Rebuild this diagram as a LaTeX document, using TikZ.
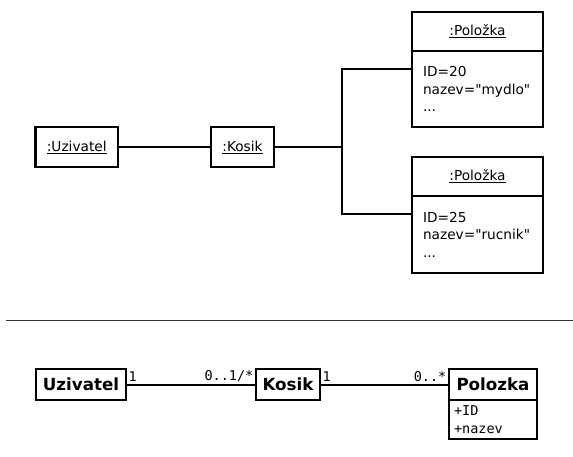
\documentclass[tikz,border=0pt]{standalone}
\usepackage{fontspec}
\setmainfont{DejaVu Sans}
\setmonofont{DejaVu Sans Mono}

\tikzset{
  obj/.style={draw, line width=2.2pt, outer sep=0pt, inner sep=0pt,
    minimum height=40pt, font=\fontsize{13.7}{17.5}\selectfont},
  objhead/.style={obj, minimum width=131pt, minimum height=39pt},
  objbody/.style={obj, align=left, text width=109pt, minimum width=131pt,
    minimum height=76pt},
  cls/.style={draw, line width=2.6pt, outer sep=0pt, inner sep=0pt,
    minimum height=31pt, font=\fontsize{16.7}{19}\selectfont\bfseries},
  clsbody/.style={cls, font=\fontsize{13.5}{18}\selectfont\ttfamily,
    align=left, text width=78pt, minimum width=88pt, minimum height=39pt},
  mult/.style={inner sep=2.5pt, font=\fontsize{13.5}{16}\selectfont\ttfamily},
  link/.style={line width=2pt}
}

\begin{document}
\begin{tikzpicture}[x=1pt, y=-1pt]
  \useasboundingbox (0,0) rectangle (573,456);

  % object diagram
  \node (u)  at ( 76.75, 147) [obj, minimum width=82.5pt] {\underline{:Uzivatel}};
  \node (k)  at (242.5,  147) [obj, minimum width=63pt] {\underline{:Kosik}};
  \node (p1) at (477.5,  31.5) [objhead] {\underline{:Položka}};
  \node (p1b) at (p1.south) [objbody, anchor=north]
    {ID=20\\nazev=\textquotedbl mydlo\textquotedbl\\...};
  \node (p2) at (477.5, 176.5) [objhead] {\underline{:Položka}};
  \node (p2b) at (p2.south) [objbody, anchor=north, minimum height=77pt]
    {ID=25\\nazev=\textquotedbl rucnik\textquotedbl\\...};

  \coordinate (fork) at (342, 147);

  \draw [link] (u) -- (k);
  \draw [link] (k.east) -- (fork);
  \draw [link] (fork) |- ([yshift=-18pt]p1b.north west);
  \draw [link] (fork) |- ([yshift=-18pt]p2b.north west);

  % separator
  \coordinate (s1) at (6, 320.5);
  \coordinate (s2) at (573, 320.5);
  \draw [line width=1.6pt, black!80] (s1) -- (s2);

  % class diagram
  \node (cu) at ( 81, 384.5) [cls, minimum width=90pt] {Uzivatel};
  \node (ck) at (288, 384.5) [cls, minimum width=64pt] {Kosik};
  \node (cp) at (493, 384.5) [cls, minimum width=88pt] {Polozka};
  \node (cpb) at (cp.south) [clsbody, anchor=north] {+ID\\+nazev};

  \draw [link] (cu) -- (ck);
  \draw [link] (ck) -- (cp);

  \node (m1) at (cu.east) [mult, anchor=south west] {1};
  \node (m2) at (ck.west) [mult, anchor=south east] {0..1/*};
  \node (m3) at (ck.east) [mult, anchor=south west] {1};
  \node (m4) at (cp.west) [mult, anchor=south east] {0..*};
\end{tikzpicture}
\end{document}
